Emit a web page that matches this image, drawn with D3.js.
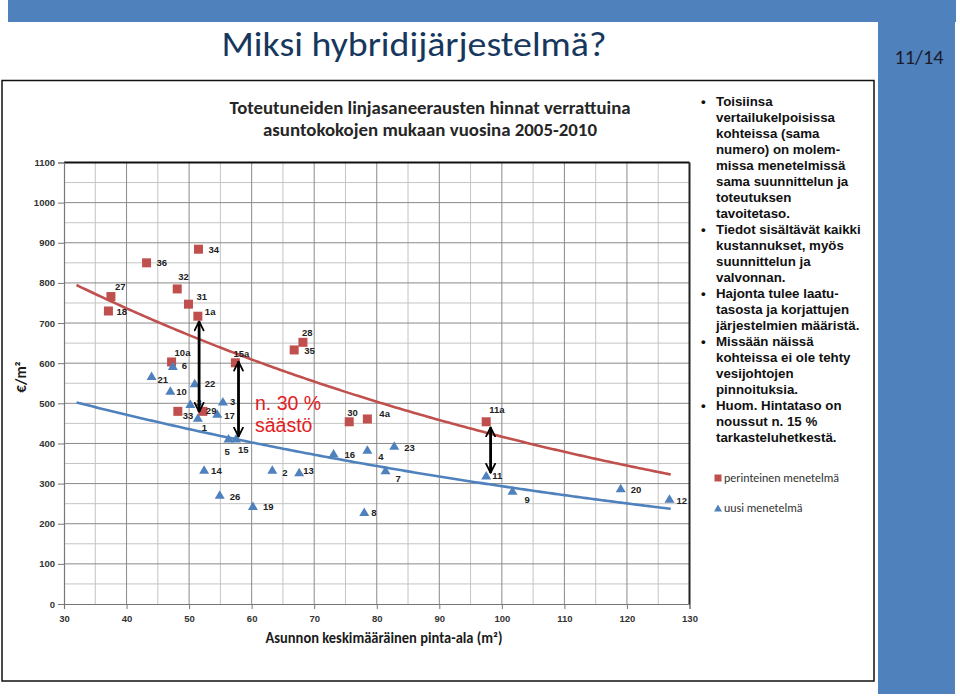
<!DOCTYPE html>
<html><head><meta charset="utf-8">
<script src="https://cdn.jsdelivr.net/npm/d3@7"></script>
<style>body{margin:0;background:#fff}svg{display:block}</style>
</head><body>
<svg id="c" width="960" height="699"></svg>
<script>
// ---------- data ----------
const xTicks = [30,40,50,60,70,80,90,100,110,120,130];
const yTicks = [0,100,200,300,400,500,600,700,800,900,1000,1100];

const tradLabels = ["27","18","36","34","32","31","1a","10a","15a","28","35","33","29","30","4a","11a"];
const tradX = [37.5,37.1,43.2,51.5,48.1,49.9,51.4,47.2,57.4,68.2,66.8,48.2,52.2,75.6,78.5,97.5];
const tradY = [766,730,850,884,785,747,717,603,601,652,633,480,480,454,461,454];

const newLabels = ["6","21","22","10","3","3","1","17","5","15","16","14","2","13","26","19","4","23","7","8","11","9","20","12"];
const newX = [47.4,44.0,50.9,47.0,55.4,50.2,51.4,54.5,56.3,57.5,73.1,52.4,63.3,67.6,54.9,60.2,78.5,82.8,81.4,78.0,97.5,101.7,119.0,126.8];
const newY = [592,567,549,530,503,497,463,473,411,411,374,333,333,327,271,243,383,393,332,228,319,281,287,261];

const trendRange = [32, 127];
const arrowX = [51.6, 57.9, 98.2];
const arrowFrom = [704, 604, 440];
const arrowTo = [479, 417, 327];

const chartTitle = ["Toteutuneiden linjasaneerausten hinnat verrattuina","asuntokokojen mukaan vuosina 2005-2010"];
const xTitle = "Asunnon keskimääräinen pinta-ala (m²)";
const legendNames = ["perinteinen menetelmä","uusi menetelmä"];
const bullets = [
 ["Toisiinsa","vertailukelpoisissa","kohteissa (sama","numero) on molem-","missa menetelmissä","sama suunnittelun ja","toteutuksen","tavoitetaso."],
 ["Tiedot sisältävät kaikki","kustannukset, myös","suunnittelun  ja","valvonnan."],
 ["Hajonta tulee laatu-","tasosta ja korjattujen","järjestelmien määristä."],
 ["Missään näissä","kohteissa ei ole tehty","vesijohtojen","pinnoituksia."],
 ["Huom. Hintataso on","noussut n. 15 %","tarkasteluhetkestä."]
];

// ---------- drawing ----------
const RED = "#C0504D", BLUE = "#4F81BD", SLIDE = "#4F81BD";
const calib = "Carlito, Lato, 'Open Sans', sans-serif";
const svg = d3.select("#c");

// slide decoration
svg.append("rect").attr("x",8).attr("y",0).attr("width",948).attr("height",22).attr("fill",SLIDE);
svg.append("rect").attr("x",878).attr("y",22).attr("width",77).attr("height",672).attr("fill",SLIDE);
svg.append("text").attr("x",414).attr("y",56).attr("text-anchor","middle")
  .attr("font-family",calib).attr("font-size",34).attr("fill","#17375E")
  .attr("textLength",385).attr("lengthAdjust","spacingAndGlyphs")
  .text("Miksi hybridijärjestelmä?");
svg.append("text").attr("x",919).attr("y",64).attr("text-anchor","middle")
  .attr("font-family",calib).attr("font-size",20).attr("fill","#1b1b2b")
  .attr("textLength",49).attr("lengthAdjust","spacingAndGlyphs")
  .text("11/14");
svg.append("rect").attr("x",2).attr("y",80.5).attr("width",872).attr("height",600.5)
  .attr("fill","none").attr("stroke","#111").attr("stroke-width",1.5);

// scales
const x = d3.scaleLinear().domain([30,130]).range([64,689.5]);
const y = d3.scaleLinear().domain([0,1100]).range([604,162.5]);

const g = svg.append("g");
// minor grid
const minorX = d3.range(35,130,10), minorY = d3.range(50,1100,100);
g.selectAll(".mx").data(minorX).join("line")
  .attr("x1",d=>x(d)).attr("x2",d=>x(d)).attr("y1",y(0)).attr("y2",y(1100))
  .attr("stroke","#c4c4c4").attr("stroke-width",1);
g.selectAll(".my").data(minorY).join("line")
  .attr("x1",x(30)).attr("x2",x(130)).attr("y1",d=>y(d)).attr("y2",d=>y(d))
  .attr("stroke","#c4c4c4").attr("stroke-width",1);
// major grid
g.selectAll(".gx").data(xTicks.slice(1,-1)).join("line")
  .attr("x1",d=>x(d)).attr("x2",d=>x(d)).attr("y1",y(0)).attr("y2",y(1100))
  .attr("stroke","#8a8a8a").attr("stroke-width",1);
g.selectAll(".gy").data(yTicks.slice(1,-1)).join("line")
  .attr("x1",x(30)).attr("x2",x(130)).attr("y1",d=>y(d)).attr("y2",d=>y(d))
  .attr("stroke","#8a8a8a").attr("stroke-width",1);
// plot borders
g.append("line").attr("x1",x(30)).attr("x2",x(130)).attr("y1",y(1100)).attr("y2",y(1100)).attr("stroke","#111").attr("stroke-width",2);
g.append("line").attr("x1",x(130)).attr("x2",x(130)).attr("y1",y(0)).attr("y2",y(1100)).attr("stroke","#222").attr("stroke-width",2);

// axes
const xAxis = d3.axisBottom(x).tickValues(xTicks).tickFormat(d3.format("d")).tickSize(5).tickPadding(4);
const yAxis = d3.axisLeft(y).tickValues(yTicks).tickFormat(d3.format("d")).tickSize(6).tickPadding(3);
const ax = svg.append("g").attr("transform",`translate(0,${y(0)})`).call(xAxis);
const ay = svg.append("g").attr("transform",`translate(${x(30)},0)`).call(yAxis);
[ax,ay].forEach(a=>{
  a.select(".domain").attr("stroke","#777").attr("stroke-width",1.2);
  a.selectAll(".tick line").attr("stroke","#777");
  a.selectAll("text").attr("font-family","'Liberation Sans', Arial, sans-serif").attr("font-weight","bold")
   .attr("font-size",9.5).attr("fill","#333");
});
ax.selectAll("text").attr("dy","0.9em");

// titles
svg.selectAll(".ct").data(chartTitle).join("text")
  .attr("x",430).attr("y",(d,i)=>114+i*22).attr("text-anchor","middle")
  .attr("font-family",calib).attr("font-weight","bold").attr("font-size",17).attr("fill","#262626")
  .attr("textLength",(d,i)=>i===0?401:334).attr("lengthAdjust","spacingAndGlyphs")
  .text(d=>d);
svg.append("text").attr("x",384).attr("y",643).attr("text-anchor","middle")
  .attr("font-family",calib).attr("font-weight","bold").attr("font-size",15).attr("fill","#1a1a1a")
  .attr("textLength",237).attr("lengthAdjust","spacingAndGlyphs").text(xTitle);
svg.append("text").attr("transform","translate(26,377) rotate(-90)").attr("text-anchor","middle")
  .attr("font-family",calib).attr("font-weight","bold").attr("font-size",15).attr("fill","#1a1a1a")
  .text("€/m²");

// exponential trend fits (least squares on ln y)
function expFit(xs, ys){
  const n = xs.length, lx = xs, ly = ys.map(Math.log);
  const mx = d3.mean(lx), my = d3.mean(ly);
  let sxy=0,sxx=0;
  for(let i=0;i<n;i++){sxy+=(lx[i]-mx)*(ly[i]-my);sxx+=(lx[i]-mx)**2;}
  const b = sxy/sxx, a = Math.exp(my-b*mx);
  return v => a*Math.exp(b*v);
}
const fRed = expFit(tradX, tradY), fBlue = expFit(newX, newY);
const samp = d3.range(trendRange[0], trendRange[1]+0.01, 0.5);
const line = f => d3.line().x(d=>x(d)).y(d=>y(f(d)));
svg.append("path").attr("d",line(fRed)(samp)).attr("fill","none").attr("stroke",RED).attr("stroke-width",2.6);
svg.append("path").attr("d",line(fBlue)(samp)).attr("fill","none").attr("stroke",BLUE).attr("stroke-width",2.6);

// markers
const trad = tradLabels.map((l,i)=>({l,x:tradX[i],y:tradY[i]}));
const nw = newLabels.map((l,i)=>({l,x:newX[i],y:newY[i]}));
svg.selectAll(".sq").data(trad).join("rect")
  .attr("x",d=>x(d.x)-4.5).attr("y",d=>y(d.y)-4.5).attr("width",9).attr("height",9).attr("fill",RED);
svg.selectAll(".tr").data(nw).join("path")
  .attr("d",d=>{const cx=x(d.x),cy=y(d.y);return `M${cx},${cy-5}L${cx+5},${cy+3.5}L${cx-5},${cy+3.5}Z`;})
  .attr("fill",BLUE);

// label placements (dx from marker center to text start, dy to text middle)
const offRed = {"27":[4,-10],"18":[8,0],"36":[10,0],"34":[10,0],"32":[1,-12],"31":[8,-8],"1a":[7,-5],
  "10a":[3,-9],"15a":[-2,-9],"28":[-1,-10],"35":[10,1],"33":[5,4],"29":[3,-1],"30":[-2,-9],"4a":[12,-5],"11a":[3,-12]};
const offBlue = [[9,-1],[6,3],[10,0],[6,0],[7,-1],[6,-2],[4,9],[7,1],[-4,12],[2,10],[11,1],[7,0],[10,2],[4,-2],
  [10,1],[10,0],[11,6],[10,1],[10,8],[7,0],[6,0],[12,8],[10,1],[7,1]];
const lblFont = "'Liberation Sans', Arial, sans-serif";
svg.selectAll(".lr").data(trad).join("text")
  .attr("x",d=>x(d.x)+offRed[d.l][0]).attr("y",d=>y(d.y)+offRed[d.l][1]+3.5)
  .attr("font-family",lblFont).attr("font-weight","bold").attr("font-size",9.5).attr("fill","#222").text(d=>d.l);
svg.selectAll(".lb").data(nw).join("text")
  .attr("x",(d,i)=>x(d.x)+offBlue[i][0]).attr("y",(d,i)=>y(d.y)+offBlue[i][1]+3.5)
  .attr("font-family",lblFont).attr("font-weight","bold").attr("font-size",9.5).attr("fill","#222").text(d=>d.l);

// arrows
const defs = svg.append("defs");
defs.append("marker").attr("id","ah").attr("viewBox","0 0 10 10").attr("refX",9).attr("refY",5)
  .attr("markerWidth",4).attr("markerHeight",4).attr("markerUnits","strokeWidth").attr("orient","auto-start-reverse")
  .append("path").attr("d","M1,1 L9,5 L1,9").attr("fill","none").attr("stroke","#000").attr("stroke-width",1.6)
  .attr("stroke-linecap","round").attr("stroke-linejoin","round");
svg.selectAll(".ar").data(arrowX).join("line")
  .attr("x1",d=>x(d)).attr("x2",d=>x(d)).attr("y1",(d,i)=>y(arrowFrom[i])).attr("y2",(d,i)=>y(arrowTo[i]))
  .attr("stroke","#000").attr("stroke-width",2.8)
  .attr("marker-start","url(#ah)").attr("marker-end","url(#ah)");

// savings note
svg.selectAll(".sv").data(["n. 30 %","säästö"]).join("text")
  .attr("x",255).attr("y",(d,i)=>410+i*22).attr("font-family","'Liberation Sans', Arial, sans-serif")
  .attr("font-size",19.5).attr("fill","#E3201E").text(d=>d);

// bullet text
let row = 0;
const bt = svg.append("g").attr("font-family","'Liberation Sans', Arial, sans-serif").attr("font-weight","bold")
  .attr("font-size",13.3).attr("fill","#111");
bullets.forEach(lines=>{
  bt.append("text").attr("x",701).attr("y",106+row*16).text("•");
  lines.forEach(t=>{ bt.append("text").attr("x",716).attr("y",106+row*16).text(t); row++; });
});

// legend
svg.append("rect").attr("x",714.5).attr("y",474.5).attr("width",7).attr("height",7).attr("fill",RED);
svg.append("path").attr("d","M718,504.5L722,511.5L714,511.5Z").attr("fill",BLUE);
svg.selectAll(".lg").data(legendNames).join("text")
  .attr("x",724).attr("y",(d,i)=>482+i*30).attr("font-family",calib).attr("font-size",12).attr("fill","#333")
  .text(d=>d);
</script>
</body></html>
